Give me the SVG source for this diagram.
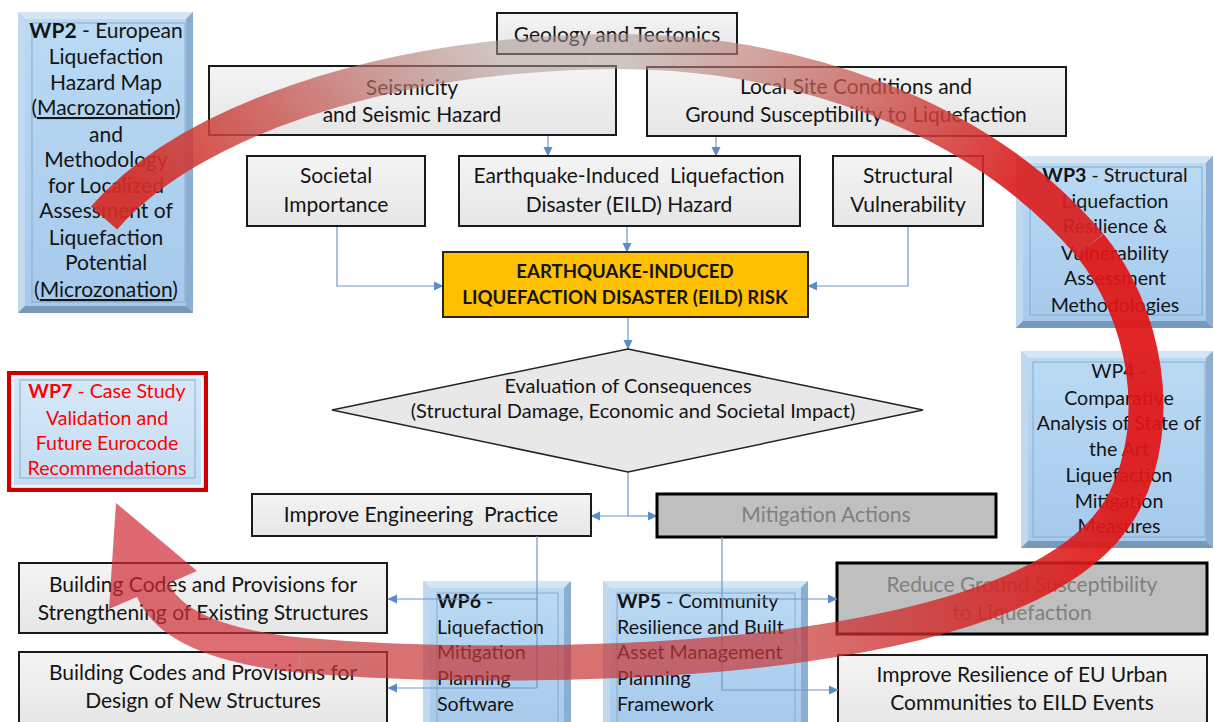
<svg xmlns="http://www.w3.org/2000/svg" width="1214" height="722" viewBox="0 0 1214 722">
  <defs>
    <style>
      .t{font-family:Lato,'Liberation Sans',sans-serif;font-size:21px;fill:#141414;text-anchor:middle}
      .w{font-size:19.6px}
      .l{text-anchor:start}
      .b{font-weight:bold}
      .grey{fill:#808080}
      .red{fill:#ff0000}
      .gbox{fill:url(#gGray);stroke:#1a1a1a;stroke-width:2}
      .mbox{fill:#bfbfbf;stroke:#000;stroke-width:3}
      .conn{fill:none;stroke:#7396c6;stroke-width:1.2}
      .bt{fill:#d4e6f6}.bl{fill:#c0d9ef}.br{fill:#8cafd1}.bb{fill:#7898ba}
      .face{fill:url(#gBlue)}
      .inner{fill:none;stroke:#86a6c6;stroke-width:0.9}
    </style>
    <linearGradient id="gGray" x1="0" y1="0" x2="0" y2="1">
      <stop offset="0" stop-color="#f4f4f4"/>
      <stop offset="1" stop-color="#e6e6e6"/>
    </linearGradient>
    <linearGradient id="gBlue" x1="0" y1="0" x2="0" y2="1">
      <stop offset="0" stop-color="#badaf4"/>
      <stop offset="1" stop-color="#a6caec"/>
    </linearGradient>
    <linearGradient id="gWp7" x1="0" y1="0" x2="0" y2="1">
      <stop offset="0" stop-color="#d6e8f8"/>
      <stop offset="1" stop-color="#c2dcf3"/>
    </linearGradient>
    <marker id="ah" markerWidth="10" markerHeight="10" refX="9" refY="5" orient="auto" markerUnits="userSpaceOnUse">
      <path d="M0,0.5 L9.5,5 L0,9.5 Z" fill="#5b8cc9"/>
    </marker>
    <!-- colour ramps for the big circular arrow band -->
    <linearGradient id="band1" gradientUnits="userSpaceOnUse" x1="150" y1="210" x2="480" y2="20">
      <stop offset="0" stop-color="#d42a24" stop-opacity="0.92"/>
      <stop offset="0.4" stop-color="#c94f49" stop-opacity="0.8"/>
      <stop offset="1" stop-color="#a99590" stop-opacity="0.55"/>
    </linearGradient>
    <linearGradient id="band2" gradientUnits="userSpaceOnUse" x1="640" y1="20" x2="1000" y2="210">
      <stop offset="0" stop-color="#a99590" stop-opacity="0.55"/>
      <stop offset="0.45" stop-color="#c4625a" stop-opacity="0.72"/>
      <stop offset="1" stop-color="#da1f1f" stop-opacity="0.92"/>
    </linearGradient>
    <linearGradient id="band4" gradientUnits="userSpaceOnUse" x1="1125" y1="0" x2="800" y2="0">
      <stop offset="0" stop-color="#e01515" stop-opacity="0.93"/>
      <stop offset="1" stop-color="#c83535" stop-opacity="0.7"/>
    </linearGradient>
  </defs>

  <rect width="1214" height="722" fill="#ffffff"/>

  <!-- connectors -->
  <g id="connectors">
    <path class="conn" d="M548 135 V156" marker-end="url(#ah)"/>
    <path class="conn" d="M716 136 V156" marker-end="url(#ah)"/>
    <path class="conn" d="M627 226 V252" marker-end="url(#ah)"/>
    <path class="conn" d="M337 226 V286 H443" marker-end="url(#ah)"/>
    <path class="conn" d="M908 226 V286 H808" marker-end="url(#ah)"/>
    <path class="conn" d="M628 317 V349" marker-end="url(#ah)"/>
    <path class="conn" d="M628 472 V516 H591" marker-end="url(#ah)"/>
    <path class="conn" d="M628 516 H657" marker-end="url(#ah)"/>
  </g>

  <!-- top row -->
  <g id="geology">
    <rect class="gbox" x="497" y="13" width="240" height="41"/>
    <text class="t" x="617" y="42">Geology and Tectonics</text>
  </g>
  <g id="seismicity">
    <rect class="gbox" x="209" y="66" width="407" height="69"/>
    <text class="t" x="412" y="95">Seismicity</text>
    <text class="t" x="412" y="122">and Seismic Hazard</text>
  </g>
  <g id="local-site">
    <rect class="gbox" x="647" y="67" width="419" height="69"/>
    <text class="t" x="856" y="94">Local Site Conditions and</text>
    <text class="t" x="856" y="122">Ground Susceptibility to Liquefaction</text>
  </g>

  <!-- second row -->
  <g id="societal">
    <rect class="gbox" x="247" y="156" width="178" height="70"/>
    <text class="t" x="336" y="183">Societal</text>
    <text class="t" x="336" y="212">Importance</text>
  </g>
  <g id="eild-hazard">
    <rect class="gbox" x="459" y="156" width="341" height="70"/>
    <text class="t" x="629" y="183" xml:space="preserve">Earthquake-Induced  Liquefaction</text>
    <text class="t" x="629" y="212">Disaster (EILD) Hazard</text>
  </g>
  <g id="structural">
    <rect class="gbox" x="833" y="156" width="150" height="70"/>
    <text class="t" x="908" y="183">Structural</text>
    <text class="t" x="908" y="212">Vulnerability</text>
  </g>

  <g id="eild-risk">
    <rect x="443" y="252" width="365" height="65" fill="#ffc000" stroke="#262626" stroke-width="2"/>
    <text class="t b" x="625" y="278" style="font-size:18.6px">EARTHQUAKE-INDUCED</text>
    <text class="t b" x="625" y="304" style="font-size:18.6px">LIQUEFACTION DISASTER (EILD) RISK</text>
  </g>

  <g id="consequences">
    <polygon points="628,349 923,410 628,472 332,410" fill="#e8e8e8" stroke="#222" stroke-width="1.5"/>
    <text class="t" x="628" y="393" style="font-size:20px">Evaluation of Consequences</text>
    <text class="t" x="633" y="418" style="font-size:20px">(Structural Damage, Economic and Societal Impact)</text>
  </g>

  <g id="engineering">
    <rect class="gbox" x="252" y="494" width="339" height="42"/>
    <text class="t" x="421" y="522" xml:space="preserve">Improve Engineering  Practice</text>
  </g>
  <g id="mitigation">
    <rect class="mbox" x="657" y="494" width="339" height="43"/>
    <text class="t grey" x="826" y="522">Mitigation Actions</text>
  </g>

  <g id="codes-existing">
    <rect class="gbox" x="19" y="563" width="368" height="70"/>
    <text class="t" x="203" y="592">Building Codes and Provisions for</text>
    <text class="t" x="203" y="620">Strengthening of Existing Structures</text>
  </g>
  <g id="codes-new">
    <rect class="gbox" x="19" y="652" width="368" height="72"/>
    <text class="t" x="203" y="680">Building Codes and Provisions for</text>
    <text class="t" x="203" y="708">Design of New Structures</text>
  </g>
  <g id="reduce-ground">
    <rect class="mbox" x="837" y="563" width="370" height="71"/>
    <text class="t grey" x="1022" y="592">Reduce Ground Susceptibility</text>
    <text class="t grey" x="1022" y="620">to Liquefaction</text>
  </g>
  <g id="resilience">
    <rect class="gbox" x="838" y="655" width="369" height="72"/>
    <text class="t" x="1022" y="682">Improve Resilience of EU Urban</text>
    <text class="t" x="1022" y="710">Communities to EILD Events</text>
  </g>

  <!-- work package boxes (bevelled) -->
  <g id="wp2">
    <rect x="18" y="12" width="175" height="301" fill="#a9cbea"/>
    <polygon class="bt" points="18,12 193,12 186,19 25,19"/>
    <polygon class="bl" points="18,12 25,19 25,306 18,313"/>
    <polygon class="br" points="193,12 193,313 186,306 186,19"/>
    <polygon class="bb" points="18,313 193,313 186,306 25,306"/>
    <rect class="face" x="25" y="19" width="161" height="287"/>
    <rect class="inner" x="32" y="23" width="153" height="279"/>
    <g style="font-size:20.2px">
      <text class="t" x="106" y="38"><tspan class="b">WP2</tspan> - European</text>
      <text class="t" x="106" y="64">Liquefaction</text>
      <text class="t" x="106" y="90">Hazard Map</text>
      <text class="t" x="106" y="115">(<tspan text-decoration="underline">Macrozonation</tspan>)</text>
      <text class="t" x="106" y="142">and</text>
      <text class="t" x="106" y="167">Methodology</text>
      <text class="t" x="106" y="193">for Localized</text>
      <text class="t" x="106" y="218">Assessment of</text>
      <text class="t" x="106" y="245">Liquefaction</text>
      <text class="t" x="106" y="270">Potential</text>
      <text class="t" x="106" y="297">(<tspan text-decoration="underline">Microzonation</tspan>)</text>
    </g>
  </g>

  <g id="wp3">
    <rect x="1016" y="156" width="197" height="172" fill="#a9cbea"/>
    <polygon class="bt" points="1016,156 1213,156 1206,163 1023,163"/>
    <polygon class="bl" points="1016,156 1023,163 1023,321 1016,328"/>
    <polygon class="br" points="1213,156 1213,328 1206,321 1206,163"/>
    <polygon class="bb" points="1016,328 1213,328 1206,321 1023,321"/>
    <rect class="face" x="1023" y="163" width="183" height="158"/>
    <rect class="inner" x="1030" y="167" width="172" height="148"/>
    <text class="t w" x="1115" y="182"><tspan class="b">WP3</tspan> - Structural</text>
    <text class="t w" x="1115" y="208">Liquefaction</text>
    <text class="t w" x="1115" y="233">Resilience &amp;</text>
    <text class="t w" x="1115" y="260">Vulnerability</text>
    <text class="t w" x="1115" y="285">Assessment</text>
    <text class="t w" x="1115" y="312">Methodologies</text>
  </g>

  <g id="wp4">
    <rect x="1021" y="351" width="192" height="197" fill="#a9cbea"/>
    <polygon class="bt" points="1021,351 1213,351 1206,358 1028,358"/>
    <polygon class="bl" points="1021,351 1028,358 1028,541 1021,548"/>
    <polygon class="br" points="1213,351 1213,548 1206,541 1206,358"/>
    <polygon class="bb" points="1021,548 1213,548 1206,541 1028,541"/>
    <rect class="face" x="1028" y="358" width="178" height="183"/>
    <rect class="inner" x="1033" y="362" width="172" height="175"/>
    <text class="t w" x="1119" y="378">WP4 -</text>
    <text class="t w" x="1119" y="405">Comparative</text>
    <text class="t w" x="1119" y="430">Analysis of State of</text>
    <text class="t w" x="1119" y="456">the Art</text>
    <text class="t w" x="1119" y="482">Liquefaction</text>
    <text class="t w" x="1119" y="508">Mitigation</text>
    <text class="t w" x="1119" y="533">Measures</text>
  </g>

  <g id="wp7">
    <rect x="9" y="373" width="197" height="117" fill="url(#gWp7)" stroke="#d00000" stroke-width="4"/>
    <rect x="13" y="377" width="189" height="109" fill="none" stroke="#eef6fd" stroke-width="2"/>
    <rect class="inner" x="20" y="380" width="175" height="98"/>
    <text class="t w red" x="107" y="398"><tspan class="b">WP7</tspan> - Case Study</text>
    <text class="t w red" x="107" y="425">Validation and</text>
    <text class="t w red" x="107" y="450">Future Eurocode</text>
    <text class="t w red" x="107" y="475">Recommendations</text>
  </g>

  <g id="wp6">
    <rect x="423" y="581" width="148" height="150" fill="#a9cbea"/>
    <polygon class="bt" points="423,581 571,581 564,588 430,588"/>
    <polygon class="bl" points="423,581 430,588 430,731 423,731"/>
    <polygon class="br" points="571,581 571,731 564,731 564,588"/>
    <rect class="face" x="430" y="588" width="134" height="143"/>
    <rect class="inner" x="437" y="593" width="121" height="140"/>
    <text class="t w l" x="437" y="608"><tspan class="b">WP6</tspan> -</text>
    <text class="t w l" x="437" y="634">Liquefaction</text>
    <text class="t w l" x="437" y="659">Mitigation</text>
    <text class="t w l" x="437" y="685">Planning</text>
    <text class="t w l" x="437" y="711">Software</text>
  </g>

  <g id="wp5">
    <rect x="603" y="581" width="205" height="150" fill="#a9cbea"/>
    <polygon class="bt" points="603,581 808,581 801,588 610,588"/>
    <polygon class="bl" points="603,581 610,588 610,731 603,731"/>
    <polygon class="br" points="808,581 808,731 801,731 801,588"/>
    <rect class="face" x="610" y="588" width="191" height="143"/>
    <rect class="inner" x="617" y="593" width="178" height="140"/>
    <text class="t w l" x="617" y="608"><tspan class="b">WP5</tspan> - Community</text>
    <text class="t w l" x="617" y="634">Resilience and Built</text>
    <text class="t w l" x="617" y="659">Asset Management</text>
    <text class="t w l" x="617" y="685">Planning</text>
    <text class="t w l" x="617" y="711">Framework</text>
  </g>

  <!-- lower branch connectors run over the work package boxes -->
  <g id="connectors-lower">
    <path class="conn" d="M537 536 V688"/>
    <path class="conn" d="M537 599 H388" marker-end="url(#ah)"/>
    <path class="conn" d="M537 688 H388" marker-end="url(#ah)"/>
    <path class="conn" d="M722 537 V690"/>
    <path class="conn" d="M722 599 H837" marker-end="url(#ah)"/>
    <path class="conn" d="M722 690 H838" marker-end="url(#ah)"/>
  </g>

  <!-- big circular arrow linking the work packages -->
  <g id="cycle-arrow" fill="none" stroke-width="35" stroke-linecap="butt">
    <path d="M104 218 C190 120 380 58 590 52" stroke="url(#band1)"/>
    <path d="M590 52 C790 46 980 115 1090 245" stroke="url(#band2)"/>
    <path d="M1090 245 C1145 313 1165 420 1125 500" stroke="#e01515" stroke-opacity="0.93"/>
    <path d="M1125 500 C1085 580 960 622 800 645" stroke="url(#band4)"/>
    <path d="M800 645 C640 668 420 666 300 655" stroke="#c83535" stroke-opacity="0.7"/>
    <path d="M300 655 C230 648 170 630 153 590" stroke="#d03038" stroke-opacity="0.7"/>
    <polygon points="116,503 197,571 109,609" fill="#d02a34" fill-opacity="0.7" stroke="none"/>
  </g>
</svg>
